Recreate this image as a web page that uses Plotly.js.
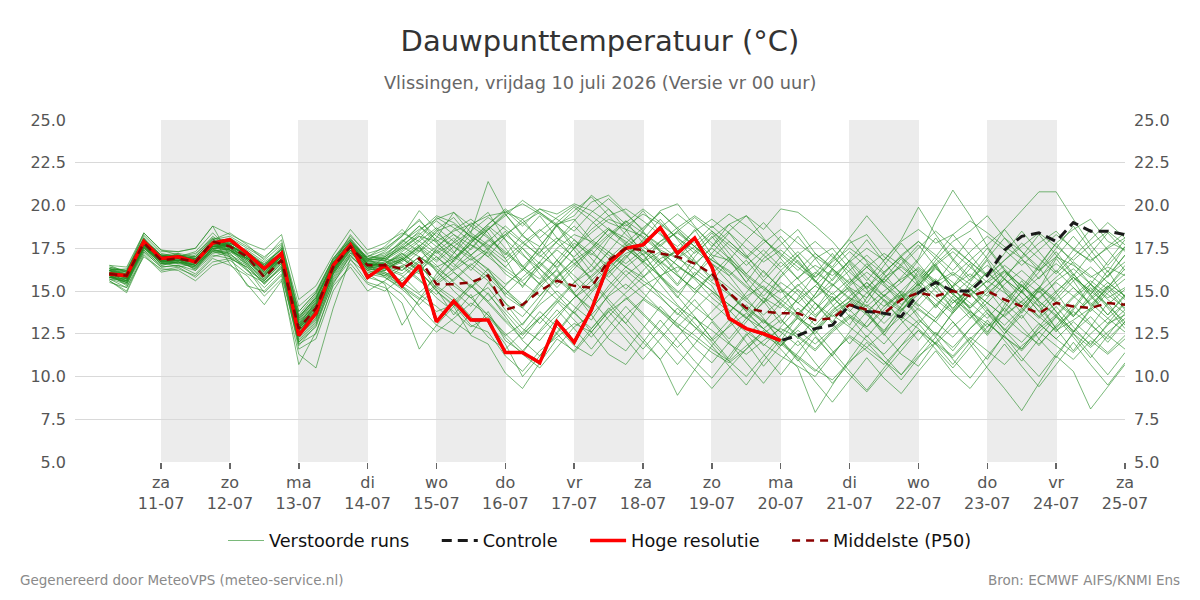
<!DOCTYPE html>
<html>
<head>
<meta charset="utf-8">
<script src="https://cdn.plot.ly/plotly-3.0.1.min.js"></script>
<style>
  html, body { margin: 0; padding: 0; background: #fff; }
  #chart { width: 1200px; height: 600px; }
</style>
</head>
<body>
<div id="chart"></div>
<script>
// Forecast run: 6-hourly steps starting Fri 10 July 2026, 06:00
const runStart = '2026-07-10T06:00:00Z';
const stepHours = 6;

// Day ticks (midnight) along the x axis
const tickDates = ['2026-07-11','2026-07-12','2026-07-13','2026-07-14','2026-07-15',
  '2026-07-16','2026-07-17','2026-07-18','2026-07-19','2026-07-20',
  '2026-07-21','2026-07-22','2026-07-23','2026-07-24','2026-07-25'];
const tickDays = ['za','zo','ma','di','wo','do','vr','za','zo','ma','di','wo','do','vr','za'];
const tickDayMonth = ['11-07','12-07','13-07','14-07','15-07','16-07','17-07','18-07',
  '19-07','20-07','21-07','22-07','23-07','24-07','25-07'];

// Dew point, high-resolution run (°C)
const hres = [16.0,15.9,17.9,16.9,17.0,16.7,17.8,18.0,17.2,16.3,
  17.2,12.4,13.7,16.5,17.7,15.8,16.5,15.3,16.5,13.2,
  14.4,13.3,13.3,11.4,11.4,10.8,13.2,12.0,13.9,16.6,
  17.5,17.7,18.7,17.2,18.1,16.4,13.4,12.8,12.5,12.1];

// Dew point, control run (°C)
const control = [16.0,15.9,17.9,16.9,17.0,16.7,17.8,18.0,17.2,16.3,
  17.2,12.4,13.7,16.5,17.7,15.8,16.5,15.3,16.5,13.2,
  14.4,13.3,13.3,11.4,11.4,10.8,13.2,12.0,13.9,16.6,
  17.5,17.7,18.7,17.2,18.1,16.4,13.4,12.8,12.5,12.1,
  12.4,12.8,13.0,14.2,13.8,13.7,13.5,14.9,15.5,15.0,
  15.0,15.9,17.4,18.2,18.4,17.9,19.0,18.5,18.5,18.3];

// Ensemble median (°C)
const median = [16.0,15.9,17.8,16.8,16.9,16.7,17.9,17.6,17.0,15.8,
  16.8,12.8,14.0,16.4,17.6,16.5,16.5,16.3,16.9,15.4,
  15.4,15.5,15.9,13.9,14.2,15.0,15.6,15.3,15.2,16.8,
  17.5,17.4,17.2,17.0,16.6,16.0,14.9,14.0,13.8,13.7,
  13.7,13.3,13.4,14.2,13.9,13.7,14.5,14.9,14.7,15.0,
  14.7,15.0,14.5,14.1,13.7,14.3,14.1,14.0,14.3,14.2];

// Perturbed ensemble members (°C)
const members = [
  [16.2,15.8,18.0,17.0,17.1,16.9,17.9,17.6,16.8,15.8, 17.3,12.5,13.6,16.6,17.9,16.8,16.9,17.5,18.2,17.9, 18.5,18.9,19.4,19.6,19.2,19.8,19.5,20.1,19.7,19.0, 18.6,18.2,17.4,16.9,16.3,15.5,14.8,13.9,13.2,12.6, 13.4,12.8,13.9,14.6,14.1,15.0,15.7,16.3,15.5,16.1, 15.4,14.7,15.9,16.8,16.2,17.0,16.5,15.8,16.4,15.9],
  [15.9,15.5,17.6,16.6,16.8,16.4,17.4,17.9,17.2,16.3, 16.8,13.2,14.4,16.1,17.5,16.2,16.0,15.3,14.6,13.8, 14.2,13.0,12.6,11.2,10.3,11.5,12.3,13.1,12.6,13.8, 14.5,15.3,15.9,16.4,15.8,15.0,14.2,13.5,12.4,11.8, 12.7,11.9,12.8,13.6,12.9,14.1,14.8,13.9,13.2,14.5, 13.8,12.9,13.6,14.4,13.5,12.7,13.3,14.0,13.1,13.6],
  [16.4,16.1,18.2,17.2,17.0,17.3,18.4,17.4,16.5,15.4, 16.5,11.8,13.0,15.9,17.2,17.0,17.4,18.3,19.1,18.2, 17.6,17.0,16.3,15.4,16.2,17.3,18.1,17.5,18.4,19.2, 18.8,19.5,18.9,18.1,17.4,16.6,15.9,16.8,15.6,14.9, 15.8,16.5,15.9,16.7,17.5,16.8,17.9,18.6,17.8,18.3, 19.1,18.4,17.6,16.9,17.8,18.5,17.4,16.8,17.5,18.1],
  [15.7,15.2,17.3,16.4,16.5,16.0,17.0,17.3,16.9,16.5, 17.6,13.8,14.9,16.9,18.1,16.9,16.3,16.8,17.6,16.1, 15.3,14.6,15.2,13.9,12.8,12.1,13.4,14.6,15.3,16.4, 17.2,17.6,16.8,15.9,15.1,14.3,13.4,12.6,11.9,11.2, 10.6,10.0,11.3,12.4,11.7,12.6,13.5,12.8,11.9,12.9, 13.8,13.1,12.3,11.6,12.8,13.6,12.5,11.7,12.6,13.4],
  [16.1,16.0,17.9,16.9,17.2,16.6,17.8,18.1,17.5,16.9, 18.0,13.5,14.6,16.5,17.6,16.4,16.7,17.9,18.6,19.2, 19.6,18.8,18.1,17.3,16.5,15.4,16.6,17.8,17.1,18.2, 17.5,16.7,17.9,18.4,17.6,16.8,16.1,15.2,14.4,15.5, 14.8,13.6,14.5,15.2,14.6,15.8,16.4,15.6,16.5,17.3, 16.4,15.5,16.2,15.3,14.5,15.6,16.3,15.4,14.6,15.2],
  [15.8,15.7,17.5,16.8,16.6,16.8,17.5,17.0,16.2,15.2, 16.2,12.2,13.3,16.0,17.4,15.8,15.5,14.8,13.5,12.6, 13.4,14.3,13.6,12.4,13.1,14.2,15.0,14.1,13.3,14.8, 15.9,16.7,17.3,16.5,15.7,14.6,13.8,14.7,15.3,14.2, 13.4,12.5,13.7,14.4,13.6,12.7,13.9,15.0,14.1,15.3, 16.0,15.2,14.3,13.4,14.6,15.5,14.7,13.8,14.9,15.7],
  [16.0,15.6,17.7,17.1,16.9,16.2,17.6,17.8,17.3,16.1, 16.9,12.8,14.1,16.6,18.3,17.1,16.8,16.2,17.0,16.4, 16.9,17.7,17.2,16.0,15.3,16.4,17.5,18.3,17.9,17.1, 16.4,15.6,14.9,14.1,13.4,12.7,11.9,11.3,12.1,12.8, 12.3,11.5,12.6,13.4,14.2,13.5,14.6,15.4,14.5,13.7, 14.8,15.6,14.9,14.1,15.2,14.3,13.5,14.6,15.5,14.7],
  [16.3,16.2,18.1,16.7,16.8,17.1,18.2,17.5,16.6,15.6, 16.6,12.0,12.9,15.6,17.0,16.2,17.0,18.0,17.3,18.5, 18.9,18.2,17.6,18.3,19.0,19.6,18.8,18.0,17.2,16.5, 17.6,18.4,17.7,16.9,17.6,16.8,16.2,15.3,14.6,14.0, 15.1,14.3,13.5,14.4,15.3,14.5,13.8,14.9,15.7,14.8, 14.1,15.2,16.1,15.3,14.4,13.6,14.7,15.6,14.8,14.0],
  [15.6,15.0,17.2,16.2,16.4,15.8,16.7,16.9,16.4,15.5, 16.4,13.0,14.2,16.3,17.8,16.6,15.8,15.1,14.2,15.3, 14.6,13.5,12.3,11.6,12.6,13.8,12.9,11.8,11.2,12.4, 13.6,14.5,13.8,12.9,12.2,11.4,10.8,11.6,12.5,13.3, 12.4,11.6,12.7,13.5,12.8,11.9,13.1,14.0,13.2,12.3, 13.4,14.3,13.5,12.6,11.9,12.9,13.8,13.0,12.2,13.2],
  [16.2,16.3,18.3,17.3,17.3,17.5,18.8,18.3,17.8,17.4, 18.3,14.5,15.3,17.1,18.6,17.4,17.8,18.4,17.9,17.2, 17.8,18.5,19.3,18.6,17.8,17.1,16.4,17.5,18.6,19.4, 19.8,19.1,18.3,17.6,18.5,19.2,18.4,17.5,16.7,17.4, 16.6,15.8,16.7,17.5,16.8,16.0,17.1,17.9,17.1,16.2, 17.3,18.2,17.4,16.5,17.4,18.3,17.5,16.7,17.6,18.4],
  [15.9,15.4,17.4,16.5,16.7,16.3,17.2,17.4,16.7,15.9, 17.1,12.6,13.9,16.2,17.7,16.5,16.2,16.9,16.2,15.0, 14.1,15.2,16.0,15.1,14.0,13.1,14.3,15.5,16.2,17.3, 16.6,17.4,16.7,15.9,15.1,16.0,15.2,14.4,13.6,14.5, 13.7,14.6,15.4,14.5,13.7,14.8,14.0,13.1,14.2,15.1, 14.3,13.4,14.5,15.3,14.4,13.5,14.6,15.4,14.5,13.7],
  [16.5,16.1,18.4,17.4,17.1,17.0,18.0,17.7,17.1,16.4, 17.5,13.6,14.8,16.8,18.0,16.9,17.2,17.8,18.8,17.8, 17.0,16.4,15.6,14.3,13.5,14.7,15.9,16.8,17.5,18.6, 18.1,17.3,16.6,17.5,16.7,15.8,14.9,14.0,13.3,12.6, 11.8,12.7,13.6,12.9,12.1,11.3,12.4,13.3,12.5,11.7, 12.8,13.7,12.8,12.0,13.1,12.2,11.4,12.5,13.4,12.6],
  [15.8,15.9,17.8,17.0,16.9,16.7,17.7,17.9,17.0,16.6, 17.2,13.1,14.3,16.4,17.6,16.7,16.6,17.3,18.0,19.3, 18.7,17.9,18.6,19.4,20.3,19.6,18.9,19.4,20.6,19.8, 18.9,18.1,17.3,16.5,15.8,15.0,14.2,13.4,12.8,13.6, 14.5,15.3,14.6,13.8,14.9,15.7,14.9,14.1,15.2,16.0, 15.1,14.3,15.4,16.2,15.3,14.5,15.6,16.4,15.5,14.7],
  [16.0,15.3,17.6,16.6,16.7,16.5,17.3,17.2,16.3,14.9, 15.9,11.9,12.5,15.4,17.1,16.1,15.9,16.5,15.7,14.6, 13.8,12.9,13.5,12.3,11.3,10.5,11.7,12.9,13.6,14.7, 15.4,14.6,13.9,13.1,12.4,11.6,10.9,11.8,12.6,11.9, 11.1,10.3,11.4,12.3,11.5,10.7,11.8,12.7,11.9,11.1, 12.2,13.1,12.3,11.5,12.6,13.5,12.7,11.9,13.0,13.9],
  [16.3,16.0,17.9,16.8,17.0,16.9,17.8,17.6,17.2,16.2, 17.0,13.3,14.5,16.7,17.9,16.6,16.4,16.0,16.8,17.6, 18.3,17.7,17.0,16.2,15.5,14.7,15.8,16.6,17.4,18.3, 19.1,18.4,17.6,18.5,19.3,18.5,17.7,16.9,17.8,18.6, 17.8,17.0,16.3,15.5,16.4,17.2,16.5,15.7,16.6,17.5, 16.7,15.9,16.8,17.6,18.4,17.6,16.8,17.7,18.5,17.7],
  [15.7,15.6,17.5,16.7,16.4,16.6,17.4,17.1,16.6,15.7, 16.7,12.4,13.8,16.3,17.5,16.3,16.1,15.6,16.4,17.4, 16.6,15.7,14.8,13.7,12.5,13.4,14.5,13.7,12.8,13.9, 14.9,15.8,16.6,17.4,16.6,17.5,16.7,15.9,15.1,14.3, 13.5,12.7,13.8,14.7,15.5,14.7,13.9,14.8,15.6,14.8, 14.0,14.9,15.7,14.9,14.1,15.0,15.8,15.0,14.2,15.1],
  [16.1,15.9,17.8,16.9,17.1,16.8,17.9,17.8,17.4,16.7, 17.4,13.0,14.1,16.5,17.7,16.5,16.6,17.2,16.5,15.5, 16.3,17.1,18.0,17.2,16.4,15.7,16.8,15.9,15.0,16.1, 17.0,17.9,18.7,19.5,18.7,17.8,16.9,16.0,15.2,14.5, 15.3,16.1,15.4,14.6,13.8,14.7,15.5,16.4,15.6,14.8, 15.7,16.5,15.7,14.9,15.8,16.6,15.8,15.0,15.9,16.7],
  [16.2,15.7,17.7,16.8,16.9,16.6,17.6,17.5,16.9,16.0, 16.8,12.7,13.7,16.2,17.6,16.6,16.5,16.9,17.6,18.4, 17.6,16.8,17.5,18.3,17.5,16.6,15.7,14.8,14.0,15.1, 16.2,15.4,14.6,13.7,12.9,12.1,12.9,13.7,12.8,12.0, 11.2,10.4,9.8,10.9,11.7,10.9,10.1,11.2,12.0,11.2, 12.3,11.5,10.7,11.8,12.6,11.8,11.0,12.1,11.3,12.2],
  [16.0,15.8,17.7,16.9,16.8,16.7,17.6,17.7,17.0,16.2, 17.1,12.9,14.0,16.4,17.8,16.5,16.4,16.2,17.0,16.3, 15.6,16.5,17.3,16.4,15.6,16.5,17.4,16.6,15.8,16.7, 17.5,16.7,15.9,15.0,14.1,13.3,14.2,13.4,14.3,15.1, 14.3,13.5,14.4,15.3,16.1,15.3,14.5,15.4,16.3,15.5, 14.7,15.6,16.5,15.7,14.9,15.8,16.7,15.9,15.1,16.0],
  [15.9,15.6,17.6,16.7,16.8,16.5,17.5,17.6,17.1,16.4, 17.2,13.4,14.7,16.6,17.8,16.8,17.0,17.6,18.5,19.4, 19.0,18.2,17.5,16.7,17.6,18.5,19.3,20.0,19.4,18.6, 17.9,17.1,17.9,18.7,19.4,18.7,19.5,18.8,18.0,17.2, 16.4,15.6,14.8,15.7,14.9,14.1,15.0,14.2,13.4,14.3, 15.1,14.3,13.5,14.4,15.2,14.4,13.6,14.5,15.3,14.5],
  [16.4,16.2,18.0,17.1,17.0,17.2,18.1,16.6,15.4,14.2, 15.6,11.3,10.5,14.0,16.9,15.5,15.2,14.3,11.6,13.0, 14.1,12.4,11.9,10.2,9.3,10.8,12.2,11.5,12.8,14.0, 13.1,12.0,11.0,12.3,13.5,12.2,11.0,12.4,13.3,12.1, 10.9,12.3,11.2,12.6,13.8,12.5,11.3,10.6,12.0,13.2, 12.1,11.0,12.5,13.6,12.2,11.1,12.6,13.5,12.4,11.6],
  [15.6,14.9,17.1,16.1,16.3,15.9,16.9,16.5,15.9,14.7, 15.7,10.7,12.6,15.3,16.4,15.0,15.6,16.4,17.3,18.1, 19.6,18.4,21.4,19.5,18.3,17.2,18.9,17.6,16.5,18.0, 19.1,17.8,16.6,15.4,17.0,18.2,16.9,15.5,14.3,15.9, 17.1,15.6,14.2,13.0,14.6,16.0,14.8,13.4,12.3,13.8, 15.2,14.0,12.7,13.9,15.1,13.8,12.6,14.0,15.3,14.1],
  [16.1,16.0,17.9,17.0,17.1,16.8,17.7,17.8,17.2,16.5, 17.3,12.6,13.5,16.1,17.6,16.8,16.9,16.6,16.0,17.5, 18.6,19.2,18.4,16.9,15.2,16.7,17.9,19.1,20.2,20.6, 19.6,18.5,19.7,20.1,18.8,17.6,18.9,19.4,18.1,16.9, 15.7,16.9,17.5,16.3,15.1,16.5,17.8,16.6,15.4,16.8, 18.1,16.9,15.7,17.0,18.3,17.1,15.9,17.2,18.4,17.3],
  [15.8,15.5,17.4,16.5,16.7,16.4,17.3,17.0,16.5,15.6, 16.6,12.3,13.4,15.8,17.2,16.4,16.0,15.5,14.8,14.1, 13.2,12.5,13.8,12.1,11.4,12.7,13.9,12.8,11.6,12.9, 14.1,13.0,11.9,10.7,11.9,13.2,12.0,10.8,9.6,10.9, 12.1,10.8,9.6,10.8,12.0,10.9,9.8,11.1,12.3,11.0, 9.9,11.2,12.4,11.1,10.0,11.3,12.5,11.3,10.1,11.4],
  [16.2,16.1,18.0,17.1,16.9,17.0,18.0,18.2,17.6,17.0, 17.8,14.1,15.0,16.9,18.2,17.2,17.5,18.2,19.2,17.9, 16.7,17.8,18.7,17.5,16.2,17.6,18.8,17.4,16.1,17.3, 18.5,19.7,18.4,17.1,15.9,17.2,18.4,17.1,15.8,17.0, 18.2,16.9,15.6,16.8,18.0,16.7,15.5,16.8,18.1,16.8, 15.6,16.9,18.1,16.9,15.7,17.0,18.2,17.0,15.8,17.1],
  [16.0,15.7,17.6,16.9,16.9,16.6,17.6,17.4,16.8,15.9, 16.9,12.9,14.2,16.5,17.8,16.7,16.8,17.6,17.0,16.2, 15.0,14.1,15.5,14.3,13.0,14.4,15.8,16.9,15.7,14.5, 13.4,12.2,11.0,8.9,10.4,11.8,10.6,9.5,10.9,12.2, 11.0,9.7,8.5,9.8,11.1,9.9,9.0,10.3,11.5,10.2, 9.3,10.6,11.9,10.6,9.4,10.7,12.0,10.7,9.5,10.8],
  [16.3,15.9,17.8,16.8,17.0,16.9,17.8,17.7,17.0,16.3, 17.1,13.0,14.4,16.7,17.9,16.9,17.1,17.9,18.8,18.0, 17.2,18.3,17.4,16.4,17.5,16.3,15.2,16.3,17.4,16.2, 15.1,16.2,17.2,16.0,14.9,16.0,17.0,15.8,14.7,15.8, 16.8,15.6,14.4,15.5,16.6,15.4,14.2,15.3,16.4,15.2, 14.0,15.1,16.2,15.0,13.8,14.9,16.0,14.8,13.6,14.7],
  [15.9,15.8,17.7,16.7,16.8,16.7,17.6,17.6,17.1,16.0, 17.0,12.8,13.9,16.3,17.5,16.4,16.2,16.8,17.6,18.6, 19.3,18.1,17.0,18.2,19.2,18.0,16.8,15.6,14.5,13.3, 12.2,11.0,12.2,13.4,14.5,13.3,12.2,13.4,14.6,13.4, 12.2,13.4,14.7,13.5,12.3,13.5,14.8,13.6,12.4,13.7, 14.9,13.7,12.5,13.8,15.0,13.8,12.6,13.9,15.1,13.9],
  [16.1,15.9,17.9,17.0,16.9,16.7,17.7,17.6,16.9,16.1, 17.0,12.9,14.0,16.4,17.7,16.6,16.5,17.2,16.4,15.6, 16.8,18.0,18.9,19.7,18.8,19.8,19.2,18.5,19.6,20.4, 19.5,18.6,19.6,18.7,17.8,18.8,17.9,17.0,18.0,17.1, 16.2,17.2,16.3,15.4,16.4,15.5,14.6,15.6,14.7,13.8, 14.8,13.9,13.0,14.0,13.1,12.2,13.2,12.3,11.4,12.4],
  [15.7,15.4,17.3,16.4,16.5,16.2,17.1,16.9,16.4,15.4, 16.4,12.1,13.2,15.7,17.1,16.0,15.8,15.2,14.5,15.4, 16.1,15.3,14.4,15.3,16.3,15.4,14.5,15.5,16.5,15.6, 14.7,13.7,12.7,11.7,12.7,13.8,14.8,13.8,12.8,11.8, 12.9,13.9,14.9,13.9,12.9,13.9,15.0,16.0,15.0,14.0, 15.0,16.1,15.1,14.1,15.2,16.2,15.2,14.2,15.2,16.3],
  [16.2,16.0,17.9,16.9,17.0,16.8,17.8,17.7,17.1,16.4, 17.2,13.1,14.3,16.6,17.8,16.7,16.8,17.4,18.2,17.3, 16.4,17.5,18.6,19.6,20.1,19.5,18.8,19.7,20.5,19.4, 18.3,17.4,16.4,15.3,16.5,17.6,18.5,19.4,18.6,19.8, 19.6,18.8,17.9,16.7,15.6,16.8,18.0,19.9,18.3,16.9, 15.8,17.1,18.6,17.3,16.2,17.5,18.8,17.4,16.1,17.6],
  [16.0,15.6,17.7,16.8,16.8,16.5,17.5,17.4,16.9,16.0, 16.9,12.7,13.8,16.2,17.6,16.5,16.4,16.9,16.1,15.2, 14.4,15.3,14.3,13.2,12.2,13.4,14.4,13.3,12.3,13.5, 14.6,13.6,12.6,11.5,10.4,9.3,10.5,11.6,12.7,11.6, 10.5,7.9,9.5,11.0,12.4,11.2,10.1,11.4,12.6,11.5, 12.8,13.9,12.7,11.6,12.9,14.1,12.9,11.8,13.1,14.3],
  [16.1,15.8,17.8,16.8,16.9,16.7,17.6,17.6,16.9,16.2, 17.0,12.8,13.8,16.3,17.6,16.4,16.3,16.8,17.5,16.7, 17.6,18.4,17.7,16.9,17.8,18.6,17.8,17.0,17.9,18.7, 17.8,16.8,17.7,18.5,17.6,16.6,15.5,14.5,15.6,16.7, 15.7,14.6,15.7,16.8,15.8,14.7,15.8,16.9,19.1,20.9, 19.4,17.6,16.3,15.2,16.5,17.8,16.6,15.4,16.7,18.0],
  [15.8,15.7,17.6,16.7,16.7,16.6,17.5,17.5,16.9,15.9, 16.9,12.9,14.0,16.3,17.7,16.6,16.5,16.4,15.6,14.8, 15.7,16.6,15.8,14.8,15.8,16.7,15.8,14.9,15.9,16.8, 15.9,14.9,13.9,12.9,13.9,14.9,13.9,12.8,11.8,12.9, 14.0,13.0,14.1,15.1,14.1,13.1,14.1,15.2,14.2,13.2, 11.9,10.5,9.3,8.0,9.6,11.2,10.3,8.1,9.4,10.7],
  [16.2,15.9,17.8,16.9,17.0,16.8,17.7,17.7,17.1,16.3, 17.1,13.0,14.1,16.4,17.7,16.6,16.6,17.1,17.9,18.7, 17.9,17.1,17.9,18.8,17.9,17.0,17.9,18.8,17.8,16.9, 17.8,18.7,19.6,18.6,17.6,18.5,17.5,16.5,17.4,16.4, 17.3,16.3,15.3,16.2,17.1,16.1,17.0,17.9,16.9,15.9, 16.8,17.7,18.6,19.7,20.8,20.8,19.2,17.7,16.5,17.6],
  [16.0,15.8,17.7,16.8,16.8,16.7,17.6,17.7,17.0,16.1, 17.0,12.8,13.9,16.3,17.6,16.5,16.4,16.9,16.2,17.0, 16.1,15.2,16.3,14.7,14.0,15.4,16.2,14.8,13.9,15.3, 16.4,17.2,15.8,14.6,16.1,15.3,13.7,14.9,16.2,15.1, 13.6,14.8,16.3,15.2,13.8,12.6,14.1,15.5,16.6,14.9, 13.7,12.5,14.2,15.6,14.3,12.8,14.0,15.4,14.1,13.2],
  [15.9,15.5,17.5,16.6,16.6,16.4,17.4,17.3,16.6,15.7, 16.7,12.5,13.6,16.0,17.4,16.3,16.2,16.7,17.4,16.5, 15.5,14.6,13.6,12.5,11.5,12.6,13.6,14.6,15.6,16.6, 17.7,16.6,15.4,14.2,13.1,12.0,10.9,10.0,11.2,12.4, 13.6,12.4,11.2,10.1,9.1,10.3,11.5,12.7,11.6,10.5, 11.7,12.9,14.0,12.9,11.8,13.0,14.2,13.1,12.0,13.2],
  [16.3,16.1,18.0,17.0,17.1,16.9,17.9,17.9,17.3,16.6, 17.4,13.3,14.5,16.7,17.9,16.8,16.9,17.5,18.3,19.1, 18.3,17.4,18.6,19.5,18.2,17.6,18.9,19.2,18.0,17.3, 16.4,15.8,16.9,17.3,18.6,17.1,16.8,15.5,16.9,17.7, 18.6,17.2,16.4,17.8,18.3,17.0,16.2,15.3,16.8,17.9, 18.5,19.4,18.1,17.3,16.4,17.8,18.6,19.2,17.9,17.4],
  [16.0,15.9,17.8,16.8,16.8,16.7,17.6,17.7,17.0,16.2, 17.0,12.7,13.8,16.2,17.6,16.5,16.5,17.0,17.7,17.0, 16.2,16.9,16.0,14.9,14.1,15.2,16.3,17.5,18.9,19.8, 18.6,17.1,15.9,14.7,13.5,12.2,13.3,12.0,10.6,11.8, 13.0,14.3,13.1,11.9,13.2,14.5,13.3,12.1,13.4,14.7, 13.6,12.4,13.7,15.0,13.8,12.6,13.9,15.2,14.0,12.8],
  [15.8,15.6,17.6,16.7,16.7,16.5,17.5,17.4,16.8,15.9, 16.8,12.6,13.7,16.1,17.5,16.4,16.3,15.9,14.9,15.8, 16.8,17.8,18.8,18.0,17.1,16.3,15.4,16.5,17.5,18.6, 17.7,16.8,15.8,14.9,15.9,16.9,17.9,17.0,16.1,15.2, 14.3,15.3,16.3,17.3,16.4,15.5,16.5,17.5,18.5,17.6, 16.7,15.8,16.8,17.8,16.9,16.0,17.0,18.0,19.0,18.1],
  [16.5,16.4,18.4,17.4,17.3,17.5,18.8,17.0,15.3,15.0, 16.0,12.0,13.1,15.5,16.8,16.0,15.4,13.0,14.5,16.0, 17.2,18.8,19.6,18.0,16.4,17.5,16.3,14.9,13.6,12.2, 11.5,12.8,14.1,13.0,11.7,10.8,12.0,13.2,14.4,13.1, 14.6,16.0,17.2,15.8,14.3,15.7,16.9,15.4,14.0,15.3, 16.6,15.1,13.8,15.0,16.4,14.9,13.5,14.8,16.2,14.6],
  [15.5,15.2,17.0,16.3,16.2,15.6,16.5,16.8,16.0,15.5, 16.3,11.6,12.2,15.0,16.6,15.4,15.0,15.8,16.7,15.1, 13.6,14.8,13.2,11.9,10.0,11.2,12.6,13.9,15.1,16.2, 17.4,18.5,17.3,16.1,17.3,18.4,17.2,16.0,17.1,18.2, 17.0,15.8,16.9,18.0,16.7,15.5,16.6,17.7,16.4,15.2, 16.3,17.5,16.2,15.0,16.1,17.3,16.0,14.8,15.9,17.1],
  [16.0,16.0,18.0,17.1,17.0,16.8,18.0,18.4,17.7,16.8, 17.7,13.8,14.9,16.9,18.0,16.8,17.3,18.2,19.7,18.6, 17.3,16.2,17.4,18.5,17.2,16.0,14.8,13.7,14.9,16.0, 17.1,15.9,14.7,13.6,14.8,16.0,14.9,13.8,15.0,16.2, 15.0,13.9,15.3,16.6,15.1,13.6,14.7,16.2,15.4,13.9, 15.5,16.8,15.0,13.7,15.1,16.9,15.6,14.1,15.2,16.5],
  [16.1,15.7,17.6,16.8,16.9,16.5,17.4,17.2,16.2,15.6, 16.9,13.5,14.6,16.6,17.8,17.0,17.6,18.6,17.6,16.8, 17.9,19.0,18.2,17.1,18.3,19.4,18.1,16.9,15.6,14.3, 13.1,14.5,15.8,16.9,18.0,17.0,15.9,14.6,13.4,12.1, 13.5,14.8,16.2,15.0,13.7,12.4,13.8,15.1,16.5,15.2, 13.9,12.6,14.0,15.4,14.1,12.8,11.5,12.9,14.3,13.0],
  [15.8,15.5,17.5,16.6,16.7,16.3,17.3,17.5,16.9,16.3, 17.3,12.9,13.6,16.0,17.3,16.2,15.9,15.3,14.1,13.0, 12.5,13.7,14.9,13.5,12.1,11.2,12.5,13.8,12.6,11.3, 10.7,12.0,13.3,12.1,10.9,9.9,11.2,12.5,11.3,10.1, 11.4,12.7,11.5,10.3,9.2,10.5,11.8,13.1,11.9,10.7, 12.0,13.3,12.1,10.9,12.2,13.5,12.3,11.1,12.4,13.7],
  [16.2,16.0,17.9,17.0,17.0,16.9,17.8,17.8,17.3,16.5, 17.2,13.2,14.2,16.5,17.7,16.6,16.7,17.0,16.3,17.3, 18.1,17.1,16.2,15.1,14.2,15.5,16.8,18.0,16.9,15.8, 16.9,18.0,19.2,18.0,16.8,15.6,16.8,18.0,19.0,17.9, 16.7,15.5,16.8,18.1,19.4,18.2,17.0,15.8,17.0,18.3, 17.1,15.9,17.2,18.5,17.3,16.1,17.4,18.6,17.4,16.2],
  [16.0,15.8,17.7,16.7,16.9,16.8,17.7,17.4,16.7,15.8, 16.8,12.4,13.4,16.1,17.4,16.3,16.1,15.4,16.2,15.0, 14.2,15.4,14.4,13.3,12.4,13.5,12.5,11.4,12.6,13.8, 12.7,11.6,12.8,14.0,12.9,11.8,13.0,14.2,13.1,14.3, 15.4,14.3,13.2,14.4,15.5,14.4,13.3,14.5,15.6,14.5, 13.4,14.6,15.7,14.6,13.5,14.7,15.8,14.7,13.6,14.8],
  [16.3,16.2,18.1,17.1,17.2,17.0,18.1,17.9,17.3,16.5, 17.5,13.4,14.6,16.8,18.0,16.9,17.0,17.7,18.4,17.6, 16.9,17.9,18.9,19.8,19.0,18.1,19.0,19.9,19.1,18.2, 19.0,19.8,19.0,18.1,17.2,18.1,18.9,18.0,17.1,16.2, 17.1,17.9,17.0,16.1,15.2,16.1,17.0,16.1,15.2,14.3, 15.2,16.1,15.2,14.3,13.4,14.3,15.2,14.3,13.4,14.3]
];

// Build the 6-hourly time axis
function pad(n) { return String(n).padStart(2, '0'); }
const t0 = Date.parse(runStart);
const times = control.map((_, i) => {
  const d = new Date(t0 + i * stepHours * 3600e3);
  return d.getUTCFullYear() + '-' + pad(d.getUTCMonth() + 1) + '-' + pad(d.getUTCDate()) +
    ' ' + pad(d.getUTCHours()) + ':00';
});

const gap = '\u00A0\u00A0\u00A0\u00A0';
const traces = [];
members.forEach((vals, k) => {
  traces.push({
    type: 'scatter', mode: 'lines',
    x: times.slice(0, vals.length), y: vals,
    name: 'Verstoorde runs' + gap, legendgroup: 'ens', showlegend: k === 0,
    line: { color: 'rgba(34,139,34,0.6)', width: 1 },
    hoverinfo: 'skip'
  });
});
traces.push({
  type: 'scatter', mode: 'lines', x: times, y: control, name: 'Controle' + gap,
  line: { color: '#1a1a1a', width: 3, dash: '10px,6px' }
});
traces.push({
  type: 'scatter', mode: 'lines', x: times.slice(0, hres.length), y: hres, name: 'Hoge resolutie' + gap,
  line: { color: '#ff0000', width: 3.5 }
});
traces.push({
  type: 'scatter', mode: 'lines', x: times, y: median, name: 'Middelste (P50)',
  yaxis: 'y2',
  line: { color: '#8b0000', width: 2.5, dash: '8px,6px' }
});

// Shade every other day, starting at the first tick
const shapes = [];
for (let i = 0; i + 1 < tickDates.length; i += 2) {
  shapes.push({
    type: 'rect', xref: 'x', yref: 'paper', layer: 'below',
    x0: tickDates[i], x1: tickDates[i + 1], y0: 0, y1: 1,
    fillcolor: '#ececec', line: { width: 0 }
  });
}

const tickText = tickDays.map((d, i) => d + '<br>' + tickDayMonth[i]);
const yTicks = [5, 7.5, 10, 12.5, 15, 17.5, 20, 22.5, 25];
const font = 'DejaVu Sans, sans-serif';

const yCommon = {
  range: [5, 25], tickvals: yTicks, tickformat: '.1f',
  tickfont: { family: font, size: 16, color: '#555' },
  ticks: '', ticklabelstandoff: 8, zeroline: false, fixedrange: true
};

const layout = {
  width: 1200, height: 600,
  paper_bgcolor: '#ffffff', plot_bgcolor: '#ffffff',
  margin: { l: 75, r: 75, t: 120, b: 138 },
  font: { family: font, color: '#333' },
  title: {
    text: 'Dauwpunttemperatuur (°C)',
    font: { family: font, size: 29, color: '#333' },
    x: 0.5, xanchor: 'center', y: 1 - 41 / 600, yanchor: 'middle', yref: 'container'
  },
  xaxis: {
    type: 'date',
    range: ['2026-07-09 18:00', '2026-07-25 00:00'],
    tickvals: tickDates, ticktext: tickText,
    tickfont: { family: font, size: 16, color: '#555' },
    ticks: 'outside', ticklen: 6, tickcolor: '#666', tickwidth: 1.5,
    showgrid: true, gridcolor: '#ececec', zeroline: false, showline: false,
    fixedrange: true
  },
  yaxis: Object.assign({}, yCommon, { showgrid: true, gridcolor: '#d9d9d9', gridwidth: 1 }),
  yaxis2: Object.assign({}, yCommon, { overlaying: 'y', side: 'right', showgrid: false }),
  shapes: shapes,
  showlegend: true,
  legend: {
    orientation: 'h', x: 0.5, xanchor: 'center',
    y: 1 - 541 / 600, yanchor: 'middle', yref: 'container',
    font: { family: font, size: 17.7, color: '#111' },
    itemwidth: 36, tracegroupgap: 0
  },
  annotations: [
    {
      text: 'Vlissingen, vrijdag 10 juli 2026 (Versie vr 00 uur)',
      xref: 'paper', yref: 'paper', x: 0.5, xanchor: 'center',
      y: 1 + (120 - 83) / 342, yanchor: 'middle', showarrow: false,
      font: { family: font, size: 17.7, color: '#666' }
    },
    {
      text: 'Gegenereerd door MeteoVPS (meteo-service.nl)',
      xref: 'paper', yref: 'paper', x: -57 / 1050, xanchor: 'left',
      y: -(580 - 462) / 342, yanchor: 'middle', showarrow: false,
      font: { family: font, size: 13.5, color: '#8a8a8a' }
    },
    {
      text: 'Bron: ECMWF AIFS/KNMI Ens',
      xref: 'paper', yref: 'paper', x: 1 + 57 / 1050, xanchor: 'right',
      y: -(580 - 462) / 342, yanchor: 'middle', showarrow: false,
      font: { family: font, size: 13.5, color: '#8a8a8a' }
    }
  ]
};

Plotly.newPlot('chart', traces, layout, { displayModeBar: false, staticPlot: true });
</script>
</body>
</html>
